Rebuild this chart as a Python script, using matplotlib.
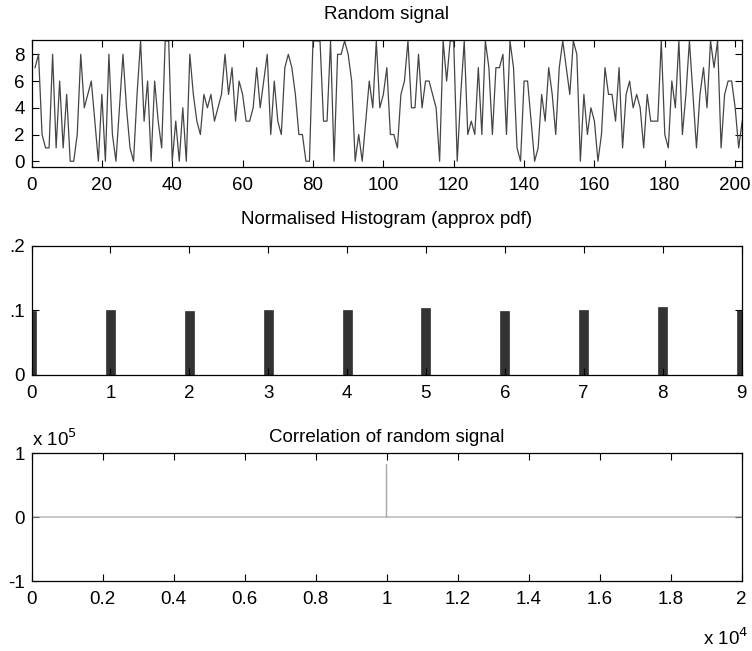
import numpy as np
import matplotlib
matplotlib.use("Agg")
import matplotlib.pyplot as plt

plt.rcParams['font.family'] = ['Liberation Sans', 'DejaVu Sans']

# First stretch of the uniformly distributed integer signal (0..9)
signal = [
    7, 8, 2, 1, 1, 8, 1, 6, 1, 5,
    0, 0, 2, 8, 4, 5, 6, 3, 0, 5,
    0, 8, 2, 0, 4, 8, 4, 1, 0, 5,
    9, 3, 6, 0, 6, 3, 1, 9, 9, 0,
    3, 0, 4, 0, 8, 5, 3, 2, 5, 4,
    5, 3, 4, 5, 8, 5, 7, 3, 6, 5,
    3, 3, 4, 7, 4, 6, 8, 2, 6, 3,
    2, 7, 8, 7, 5, 2, 2, 0, 0, 9,
    9, 9, 3, 3, 9, 0, 8, 8, 9, 8,
    6, 0, 2, 0, 3, 6, 4, 9, 4, 5,
    7, 2, 2, 1, 5, 6, 9, 4, 4, 8,
    4, 6, 6, 5, 4, 0, 9, 6, 9, 9,
    0, 5, 9, 2, 3, 2, 7, 2, 9, 7,
    2, 7, 7, 8, 2, 9, 7, 1, 0, 6,
    6, 3, 0, 1, 5, 3, 7, 5, 2, 7,
    9, 7, 5, 9, 8, 0, 5, 2, 4, 3,
    0, 2, 7, 5, 5, 3, 7, 1, 5, 6,
    4, 5, 4, 1, 5, 3, 3, 3, 9, 2,
    1, 6, 4, 9, 2, 5, 9, 5, 1, 5,
    7, 4, 9, 7, 9, 1, 5, 6, 6, 4,
    1, 3,
]

# Normalised histogram of the full signal
hist_levels = [0, 1, 2, 3, 4, 5, 6, 7, 8, 9]
hist_pdf = [0.0995, 0.101, 0.099, 0.101, 0.101, 0.1036, 0.099, 0.101, 0.1057, 0.1005]

# Autocorrelation (mean removed): flat apart from the zero-lag peak
corr_index = [1, 9999, 10000, 10001, 19999]
corr_value = [0.0, 0.0, 82000.0, 0.0, 0.0]

sig_xticks = [0, 20, 40, 60, 80, 100, 120, 140, 160, 180, 200]
sig_yticks = [0, 2, 4, 6, 8]
hist_yticks = [0, 0.1, 0.2]
hist_ylabels = ['0', '.1', '.2']
corr_xticks = [0, 2000, 4000, 6000, 8000, 10000, 12000, 14000, 16000, 18000, 20000]
corr_xlabels = ['0', '0.2', '0.4', '0.6', '0.8', '1', '1.2', '1.4', '1.6', '1.8', '2']
corr_yticks = [-1e5, 0, 1e5]
corr_ylabels = ['-1', '0', '1']

W, H = 752, 651
fig = plt.figure(figsize=(W / 100, H / 100), dpi=100)


def box(left, top, right, bottom):
    return [left / W, 1 - bottom / H, (right - left) / W, (bottom - top) / H]


TICK_FS = 13.5
TITLE_FS = 13.5


def style(ax):
    ax.tick_params(direction='in', top=True, right=True, length=5, width=0.8,
                   labelsize=TICK_FS, colors='black')
    ax.tick_params(axis='x', pad=7)
    ax.tick_params(axis='y', pad=5)
    for s in ax.spines.values():
        s.set_linewidth(0.9)


# Random signal
ax1 = fig.add_axes(box(31.5, 40, 741.5, 167))
ax1.plot(np.arange(1, len(signal) + 1), signal, color='#454545', lw=0.9)
ax1.set_xlim(0, 201.8)
ax1.set_ylim(-0.43, 9.07)
ax1.set_xticks(sig_xticks)
ax1.set_yticks(sig_yticks)
style(ax1)
ax1.set_title('Random signal', fontsize=TITLE_FS, pad=15)

# Normalised histogram
ax2 = fig.add_axes(box(31.5, 246, 741.5, 375))
ax2.bar(hist_levels, hist_pdf, width=0.115, color='#333333', edgecolor='#333333', lw=0.5)
ax2.set_xlim(0, 9)
ax2.set_ylim(0, 0.2)
ax2.set_xticks(hist_levels)
ax2.set_yticks(hist_yticks)
ax2.set_yticklabels(hist_ylabels)
style(ax2)
ax2.set_title('Normalised Histogram (approx pdf)', fontsize=TITLE_FS, pad=16)

# Correlation
ax3 = fig.add_axes(box(31.5, 453, 741.5, 581))
ax3.plot(corr_index, corr_value, color='#aaaaaa', lw=0.9)
ax3.set_xlim(0, 20000)
ax3.set_ylim(-1e5, 1e5)
ax3.set_xticks(corr_xticks)
ax3.set_xticklabels(corr_xlabels)
ax3.set_yticks(corr_yticks)
ax3.set_yticklabels(corr_ylabels)
style(ax3)
ax3.set_title('Correlation of random signal', fontsize=TITLE_FS, pad=8)
ax3.text(0.0, 1.025, r'x 10$^{5}$', transform=ax3.transAxes, fontsize=TICK_FS,
         ha='left', va='bottom')
ax3.text(1.01, -0.36, r'x 10$^{4}$', transform=ax3.transAxes, fontsize=TICK_FS,
         ha='right', va='top')

fig.savefig('out.png', dpi=100)
